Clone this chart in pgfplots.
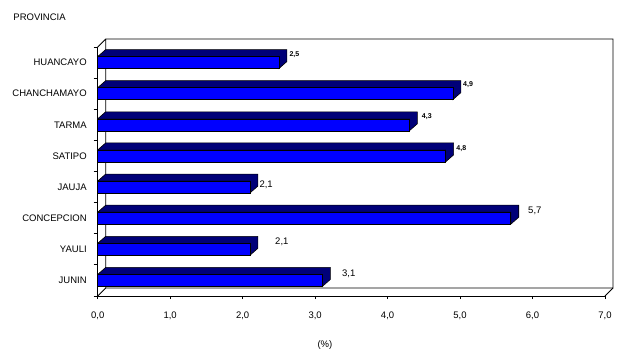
\documentclass[border=0pt]{standalone}
\usepackage{fontspec}
\setmainfont{Liberation Sans}
\usepackage{pgfplots}
\usepackage{pgfplotstable}
\pgfplotsset{compat=1.18}
\definecolor{frontblue}{RGB}{0,0,255}
\definecolor{darkblue}{RGB}{0,0,120}

% pos = category position (JUNIN = 1 ... HUANCAYO = 8), val = %
\pgfplotstableread{
pos val
8 2.5
7 4.9
6 4.3
5 4.8
4 2.1
3 5.7
2 2.1
1 3.1
}\datatable

% label positions (x, y in axis units) and values
\pgfplotstableread{
x y val
2.644 8.243 2.5
5.041 7.279 4.9
4.471 6.261 4.3
4.947 5.223 4.8
}\smalllabels
\pgfplotstableread{
x y val
2.23 4.066 2.1
5.938 3.231 5.7
2.447 2.245 2.1
3.371 1.207 3.1
}\biglabels

% vertex pattern of the top + side faces of a 3D bar
\pgfplotstableread{
kv kd sh dd
0 0 1 0
0 1 1 1
1 1 1 1
1 1 -1 1
1 0 -1 0
1 0 1 0
}\prismshape

\newcommand{\prism}[2]{%
  \addplot[fill=darkblue, draw=black, line width=0.6bp]
    table[x expr={\thisrow{kv}*#2+\thisrow{kd}*0.1104},
          y expr={#1+\thisrow{sh}*0.1928+\thisrow{dd}*0.225}] {\prismshape} -- cycle;}

\begin{document}
\begin{tikzpicture}
\path[use as bounding box] (-97.7bp,-58bp) rectangle (526.3bp,296bp);
\begin{axis}[
  scale only axis,
  width=507.3bp, height=249bp,
  at={(0,0)}, anchor=south west,
  xmin=0, xmax=7, ymin=0.5, ymax=8.5,
  clip=false,
  axis lines*=left,
  axis line style={line width=0.8bp, black},
  font=\fontsize{9.5bp}{11bp}\selectfont,
  /pgf/number format/.cd, use comma, fixed, fixed zerofill, precision=1, assume math mode=true,
  /pgfplots/.cd,
  xtick={0,...,7},
  ytick={1,...,8},
  yticklabels={JUNIN,YAULI,CONCEPCION,JAUJA,SATIPO,TARMA,CHANCHAMAYO,HUANCAYO},
  minor ytick={0.5,1.5,...,8.5},
  tick align=outside,
  major tick length=3bp,
  minor tick length=4bp,
  major y tick style={draw=none},
  tick style={black, line width=0.8bp},
  xticklabel style={yshift=-9bp},
  yticklabel style={xshift=-4.5bp},
]
% back wall and floor edges
\draw[black, line width=0.8bp]
  (axis cs:0,8.5) -- (axis cs:0.1104,8.755) -- (axis cs:7.1104,8.755)
  -- (axis cs:7.1104,0.755) -- (axis cs:0.1104,0.755) -- (axis cs:0.1104,8.755);
\draw[black, line width=0.8bp] (axis cs:0,0.5) -- (axis cs:0.1104,0.755);
\draw[black, line width=0.8bp] (axis cs:7,0.5) -- (axis cs:7.1104,0.755);

% 3D depth faces
\prism{8}{2.5}
\prism{7}{4.9}
\prism{6}{4.3}
\prism{5}{4.8}
\prism{4}{2.1}
\prism{3}{5.7}
\prism{2}{2.1}
\prism{1}{3.1}

% front faces
\addplot[xbar, bar width=12bp, bar shift=0pt, fill=frontblue, draw=black, line width=0.6bp]
  table[x=val, y=pos] {\datatable};

% value labels
\addplot[draw=none, mark=none, nodes near coords, point meta=explicit,
  nodes near coords style={anchor=west, inner sep=0pt,
    font=\fontsize{7bp}{8bp}\selectfont\bfseries}]
  table[x=x, y=y, meta=val] {\smalllabels};
\addplot[draw=none, mark=none, nodes near coords, point meta=explicit,
  nodes near coords style={anchor=west, inner sep=0pt,
    font=\fontsize{9.5bp}{11bp}\selectfont}]
  table[x=x, y=y, meta=val] {\biglabels};

\node[anchor=west, inner sep=0pt, font=\fontsize{9.5bp}{11bp}\selectfont]
  at (axis description cs:-0.1665,1.1205) {PROVINCIA};
\node[inner sep=0pt, font=\fontsize{9.5bp}{11bp}\selectfont]
  at (axis description cs:0.448,-0.1968) {(\%)};
\end{axis}
\end{tikzpicture}
\end{document}
